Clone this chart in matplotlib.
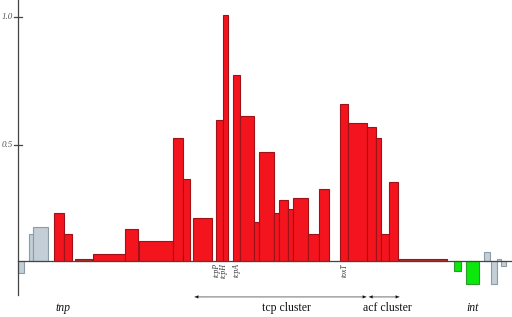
import matplotlib
matplotlib.use("Agg")
import matplotlib.pyplot as plt

# gene coordinates (arbitrary position units) and expression values
starts = [18, 28.7, 33.3, 54, 64.3, 75.3, 93, 125, 139.3, 173.3, 183.3, 192.7,
          216, 223.3, 233.3, 240.3, 253.7, 259.3, 274, 279, 287.7, 292.7, 308.3,
          318.7, 340, 348.3, 367.3, 376, 381, 389.3, 399.3, 453.7, 466, 484.3,
          491, 497.3, 501.3]
ends = [24.3, 33.3, 47.7, 64.3, 71.7, 92, 125, 137.7, 173.3, 183.3, 190, 212,
        223.3, 227.7, 240.3, 253.7, 259.3, 274, 279, 287.7, 292.7, 308.3, 318.7,
        329.3, 348.3, 367.3, 376, 381, 389.3, 398.3, 446.7, 461, 479, 489.7,
        496.7, 500.7, 506]
values = [0.003, 0.153, 0.179, 0.234, 0.153, 0.057, 0.074, 0.171, 0.127, 0.526,
          0.366, 0.214, 0.597, 1.007, 0.774, 0.614, 0.199, 0.472, 0.234, 0.286,
          0.252, 0.295, 0.153, 0.330, 0.659, 0.587, 0.569, 0.526, 0.153, 0.357,
          0.055, 0.010, -0.043, 0.082, -0.041, 0.055, 0.030]
groups = ["g", "g", "g", "r", "r", "d", "r", "r", "r", "r", "r", "r", "r", "r",
          "r", "r", "r", "r", "r", "r", "r", "r", "r", "r", "r", "r", "r", "r",
          "r", "r", "d", "n", "n", "g", "g", "g", "g"]
baseline = 0.048

gene_labels = ["tcpP", "tcpH", "tcpA", "toxT"]
gene_label_pos = [216.3, 223.8, 237.0, 344.5]

region_labels = ["tnp", "int"]
region_pos = [63, 473]
clusters = ["tcp cluster", "acf cluster"]
cluster_start = [195, 369.3]
cluster_end = [366, 399]
cluster_text_pos = [286, 387.5]
ytick_vals = [0.5, 1.0]
ytick_labels = ["0.5", "1.0"]

face = {"g": "#c3ced6", "r": "#f3141e", "d": "#b42a2a", "n": "#0be80b"}
edge = {"g": "#8c9ba5", "r": "#9e1218", "d": "#8a1c1c", "n": "#2a9a2a"}

fig = plt.figure(figsize=(5.12, 3.17), dpi=100)
ax = fig.add_axes([0, 0, 1, 1])
ax.set_xlim(0, 512)
ax.set_ylim(-0.1704, 1.065)
ax.axis("off")

for s, e, v, g in zip(starts, ends, values, groups):
    ax.bar(s, v - baseline, width=e - s, bottom=baseline, align="edge",
           color=face[g], edgecolor=edge[g], linewidth=0.8, zorder=2)

axis_x = 18
ax.plot([axis_x, 512], [baseline, baseline], color="#444444", lw=0.9, zorder=3)
ax.plot([axis_x, axis_x], [-0.085, 1.065], color="#444444", lw=0.9, zorder=3)
for tv, tl in zip(ytick_vals, ytick_labels):
    ax.plot([axis_x - 4, axis_x + 4], [tv, tv], color="#444444", lw=0.9, zorder=3)
    ax.text(axis_x - 5, tv, tl, ha="right", va="center", fontsize=6.5,
            family="Liberation Serif", style="italic", color="#555555")

for lab, xp in zip(gene_labels, gene_label_pos):
    ax.text(xp, baseline - 0.008, lab, rotation=90, ha="center", va="top",
            fontsize=5.5, family="Liberation Serif", style="italic", color="#333333")

for lab, xp in zip(region_labels, region_pos):
    ax.text(xp, -0.135, lab, ha="center", va="center", fontsize=8.5,
            family="Liberation Serif", style="italic", color="#111111")

arrow_y = -0.092
for lab, s, e, tx in zip(clusters, cluster_start, cluster_end, cluster_text_pos):
    ax.annotate("", xy=(s, arrow_y), xytext=(e, arrow_y),
                arrowprops=dict(arrowstyle="-", color="#999999", lw=1.0,
                                shrinkA=0, shrinkB=0))
    ax.annotate("", xy=(s, arrow_y), xytext=(s + 6, arrow_y),
                arrowprops=dict(arrowstyle="-|>", color="#111111", lw=0.01,
                                mutation_scale=6, shrinkA=0, shrinkB=0))
    ax.annotate("", xy=(e, arrow_y), xytext=(e - 6, arrow_y),
                arrowprops=dict(arrowstyle="-|>", color="#111111", lw=0.01,
                                mutation_scale=6, shrinkA=0, shrinkB=0))
    ax.text(tx, -0.134, lab, ha="center", va="center", fontsize=8.5,
            family="Liberation Serif", color="#111111")

fig.savefig("out.png", dpi=100)
